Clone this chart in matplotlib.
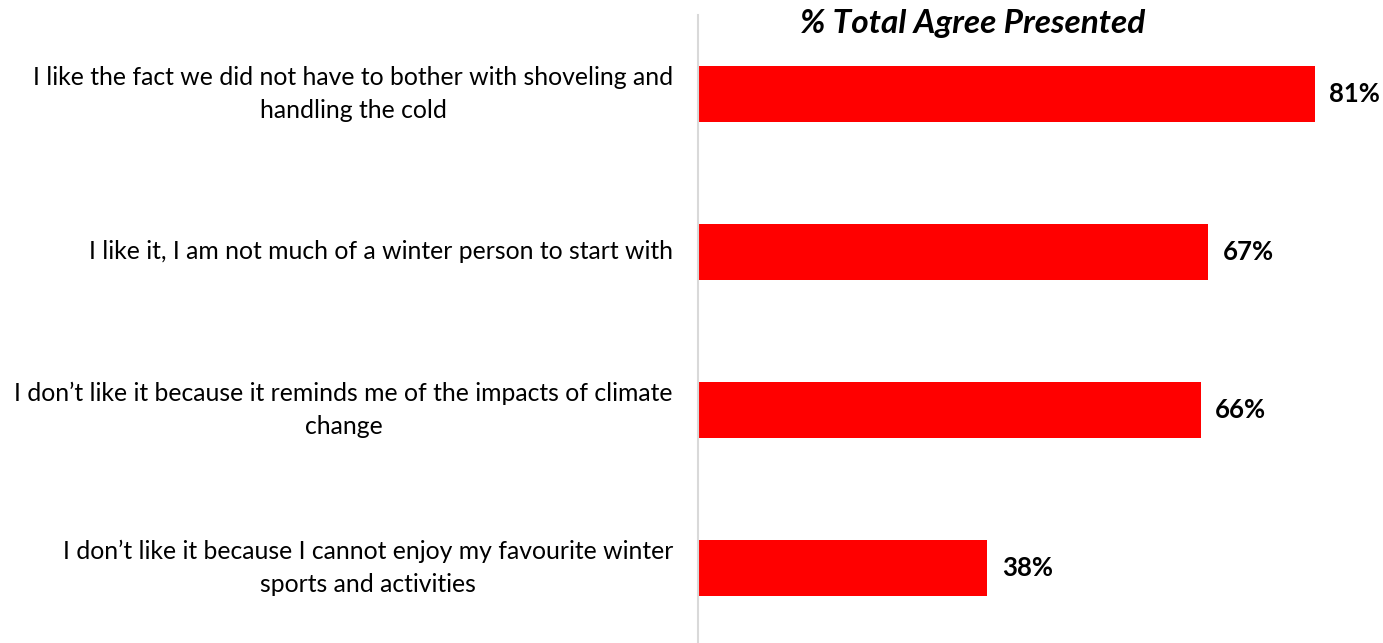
import matplotlib.pyplot as plt

categories = [
    "I like the fact we did not have to bother with shoveling and\nhandling the cold",
    "I like it, I am not much of a winter person to start with",
    "I don\u2019t like it because it reminds me of the impacts of climate\nchange",
    "I don\u2019t like it because I cannot enjoy my favourite winter\nsports and activities",
]
values = [81, 67, 66, 38]
title = "% Total Agree Presented"

plt.rcParams['font.family'] = ['Lato', 'DejaVu Sans']

fig = plt.figure(figsize=(13.83, 6.43), dpi=100)
ax = fig.add_axes([698 / 1383, 0.0, 1 - 698 / 1383, (643 - 15) / 643])

pos = list(range(len(values)))
ax.barh(pos, values, height=0.354, color='#ff0000')
ax.set_xlim(0, 685 / 7.617)
ax.set_ylim(3.475, -0.5)

for p, v in zip(pos, values):
    ax.text(v + 1.9, p, f"{v}%", va='center', ha='left',
            fontsize=18.5, fontweight='bold', color='black')

ax.set_yticks(pos)
ax.set_yticklabels(categories, fontsize=17.8, multialignment='center',
                   linespacing=1.5, va='center')
ax.tick_params(axis='y', length=0, pad=18)
ax.set_xticks([])

for s in ['top', 'right', 'bottom']:
    ax.spines[s].set_visible(False)
ax.spines['left'].set_color('#d9d9d9')
ax.spines['left'].set_linewidth(1.5)

fig.text(973 / 1383, 1 - 23 / 643, title, ha='center', va='center',
         fontsize=24, fontweight='bold', fontstyle='italic')

plt.savefig('out.png', dpi=100)
